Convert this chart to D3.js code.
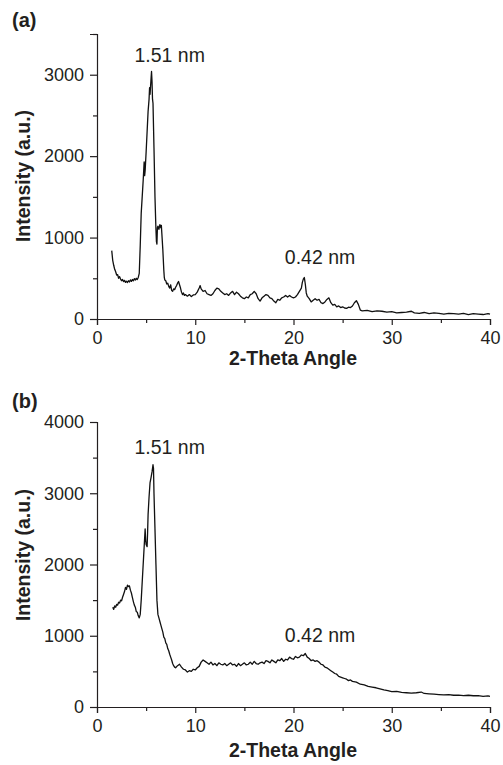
<!DOCTYPE html>
<html>
<head>
<meta charset="utf-8">
<script src="https://cdn.jsdelivr.net/npm/d3@7"></script>
<style>
  html, body { margin: 0; padding: 0; background: #fff; }
  svg { display: block; }
  text { font-family: "Liberation Sans", Arial, sans-serif; fill: #231f20; }
</style>
</head>
<body>
<svg id="chart" width="503" height="765"></svg>
<script>
// ---------- DATA ----------
const thetaA = [1.5,1.6,1.7,1.8,1.9,2.0,2.1,2.2,2.3,2.4,2.5,2.6,2.7,2.8,2.9,3.0,3.1,3.2,3.3,3.4,3.5,3.6,3.7,3.8,3.9,4.0,4.1,4.2,4.3,4.4,4.5,4.6,4.7,4.8,4.85,4.9,5.0,5.1,5.2,5.3,5.35,5.4,5.5,5.55,5.6,5.65,5.7,5.8,5.9,6.0,6.05,6.1,6.15,6.2,6.3,6.4,6.5,6.55,6.6,6.7,6.8,6.85,6.9,7.0,7.1,7.2,7.3,7.4,7.5,7.6,7.7,7.8,7.9,8.0,8.1,8.2,8.3,8.4,8.5,8.6,8.7,8.8,8.9,9.0,9.2,9.4,9.6,9.8,10.0,10.2,10.4,10.5,10.6,10.8,11.0,11.2,11.4,11.6,11.8,12.0,12.2,12.4,12.6,12.8,13.0,13.2,13.4,13.6,13.8,14.0,14.2,14.4,14.6,14.8,15.0,15.2,15.4,15.6,15.8,16.0,16.2,16.4,16.6,16.8,17.0,17.2,17.4,17.6,17.8,18.0,18.2,18.4,18.6,18.8,19.0,19.2,19.4,19.6,19.8,20.0,20.2,20.4,20.6,20.8,20.9,21.0,21.1,21.2,21.3,21.4,21.6,21.8,22.0,22.2,22.4,22.6,22.8,23.0,23.2,23.4,23.6,23.8,24.0,24.2,24.4,24.6,24.8,25.0,25.2,25.4,25.6,25.8,26.0,26.2,26.4,26.6,26.8,27.0,27.5,28.0,28.5,29.0,29.5,30.0,30.5,31.0,31.5,32.0,32.3,32.8,33.3,33.8,34.3,34.8,35.3,35.8,36.3,36.8,37.3,37.8,38.3,38.8,39.3,39.8,40.0];
const intensityA = [840,720,660,610,580,540,545,500,520,490,470,485,460,475,450,465,448,470,455,480,462,485,470,495,478,500,485,510,560,900,1300,1500,1700,1930,1760,1820,2050,2300,2550,2700,2840,2760,2950,3040,2920,2700,2650,2100,1500,1100,950,920,1120,1140,1100,1160,1120,1150,1050,850,600,510,480,470,430,440,400,380,420,350,340,370,360,390,410,440,460,420,380,330,300,320,290,300,280,300,275,295,300,330,380,410,370,340,350,310,300,290,310,350,380,370,340,320,300,310,290,320,340,300,330,310,280,260,250,270,260,300,310,340,310,250,220,260,280,300,290,260,250,220,200,240,230,260,270,290,270,290,270,260,270,300,340,380,450,490,510,430,320,280,250,210,230,250,230,240,200,190,210,240,260,200,170,180,150,160,140,150,135,130,145,140,160,200,225,180,110,100,105,90,100,95,85,90,75,80,85,95,75,70,80,65,75,70,60,70,65,60,70,55,65,60,55,65,60];

const thetaB = [1.6,1.7,1.8,1.9,2.0,2.1,2.2,2.3,2.4,2.5,2.6,2.7,2.8,2.9,3.0,3.1,3.2,3.3,3.4,3.5,3.6,3.7,3.8,3.9,4.0,4.1,4.2,4.3,4.4,4.5,4.6,4.7,4.8,4.9,4.95,5.0,5.1,5.15,5.2,5.3,5.4,5.5,5.6,5.7,5.75,5.8,5.9,6.0,6.1,6.2,6.3,6.4,6.5,6.6,6.7,6.8,6.9,7.0,7.1,7.2,7.3,7.4,7.5,7.6,7.7,7.8,7.9,8.0,8.2,8.4,8.6,8.8,9.0,9.2,9.4,9.6,9.8,10.0,10.2,10.4,10.6,10.8,11.0,11.2,11.4,11.6,11.8,12.0,12.2,12.4,12.6,12.8,13.0,13.2,13.4,13.6,13.8,14.0,14.2,14.4,14.6,14.8,15.0,15.2,15.4,15.6,15.8,16.0,16.2,16.4,16.6,16.8,17.0,17.2,17.4,17.6,17.8,18.0,18.2,18.4,18.6,18.8,19.0,19.2,19.4,19.6,19.8,20.0,20.2,20.4,20.6,20.8,21.0,21.2,21.4,21.6,21.8,22.0,22.2,22.4,22.6,22.8,23.0,23.2,23.4,23.6,23.8,24.0,24.2,24.4,24.6,24.8,25.0,25.2,25.4,25.6,25.8,26.0,26.4,26.8,27.2,27.6,28.0,28.4,28.8,29.2,29.6,30.0,30.5,31.0,31.5,32.0,32.5,33.0,33.3,33.8,34.3,34.8,35.3,35.8,36.3,36.8,37.3,37.8,38.3,38.8,39.3,39.8,40.0];
const intensityB = [1400,1370,1420,1400,1440,1430,1470,1460,1500,1490,1540,1580,1620,1680,1650,1710,1690,1700,1640,1600,1540,1480,1430,1400,1340,1330,1280,1250,1300,1500,1750,2000,2250,2500,2350,2280,2250,2450,2700,2950,3150,3220,3300,3400,3350,3000,2500,2000,1500,1300,1250,1200,1150,1100,1050,980,960,900,880,820,790,740,700,660,610,580,560,550,580,600,560,530,520,490,510,500,530,520,550,570,630,660,640,620,600,630,590,610,580,620,600,590,610,580,600,620,590,600,570,610,580,600,620,590,600,630,600,640,610,600,620,630,610,650,640,620,660,640,620,660,650,680,640,670,660,700,680,670,710,690,700,730,720,750,700,680,650,660,640,650,630,600,590,560,550,530,510,490,470,460,430,420,410,400,390,370,380,360,350,320,310,290,280,270,255,240,230,215,220,205,200,195,200,210,190,185,180,175,170,175,165,168,160,165,158,160,150,155,150];

const xTicks = [0, 10, 20, 30, 40];
const xMinorTicks = [5, 15, 25, 35];
const yTicksA = [0, 1000, 2000, 3000];
const yMinorTicksA = [500, 1500, 2500, 3500];
const yTicksB = [0, 1000, 2000, 3000, 4000];
const yMinorTicksB = [500, 1500, 2500, 3500];
const panelLabels = ["(a)", "(b)"];
const peakLabels = ["1.51 nm", "0.42 nm"];
// annotation anchor points in data units [2-theta, intensity]
const peakPosA = [[7.4, 3160], [22.7, 680]];
const peakPosB = [[7.4, 3550], [22.7, 910]];
const xTitle = "2-Theta Angle";
const yTitle = "Intensity (a.u.)";

// ---------- DRAW ----------
const svg = d3.select("#chart");

function panel(cfg) {
  const x = d3.scaleLinear().domain([0, 40]).range([97, 490]);
  const y = d3.scaleLinear().domain([0, cfg.yMax]).range([cfg.bottom, cfg.top]);
  const g = svg.append("g");

  g.append("g").attr("transform", `translate(0,${cfg.bottom})`)
    .call(d3.axisBottom(x).tickValues(xMinorTicks).tickSize(4).tickFormat(""))
    .call(s => s.select(".domain").remove());
  const gx = g.append("g").attr("transform", `translate(0,${cfg.bottom})`)
    .call(d3.axisBottom(x).tickValues(xTicks).tickSizeOuter(0).tickSize(6).tickPadding(6).tickFormat(d3.format("d")));
  gx.selectAll("text").attr("font-size", 18).attr("dy", "0.71em");

  g.append("g").attr("transform", `translate(97,0)`)
    .call(d3.axisLeft(y).tickValues(cfg.yMinor).tickSize(4).tickFormat(""))
    .call(s => s.select(".domain").remove());
  const gy = g.append("g").attr("transform", `translate(97,0)`)
    .call(d3.axisLeft(y).tickValues(cfg.yTicks).tickSizeOuter(0).tickSize(7).tickPadding(6).tickFormat(d3.format("d")));
  gy.selectAll("text").attr("font-size", 18);

  g.selectAll(".domain, .tick line").attr("stroke", "#231f20").attr("stroke-width", 1.2);

  const pts = cfg.tx.map((t, i) => [t, cfg.iy[i]]);
  g.append("path").datum(pts)
    .attr("fill", "none").attr("stroke", "#111").attr("stroke-width", 1.3)
    .attr("stroke-linejoin", "round")
    .attr("d", d3.line().x(d => x(d[0])).y(d => y(d[1])));

  cfg.peaks.forEach((p, i) => {
    g.append("text").attr("x", x(p[0])).attr("y", y(p[1]))
      .attr("text-anchor", "middle").attr("font-size", 19.5).text(peakLabels[i]);
  });

  g.append("text").attr("x", 293).attr("y", cfg.xTitleY)
    .attr("text-anchor", "middle").attr("font-size", 19.5).attr("font-weight", "bold").text(xTitle);
  g.append("text").attr("transform", `translate(30,${cfg.yTitleY}) rotate(-90)`)
    .attr("text-anchor", "middle").attr("font-size", 19.5).attr("font-weight", "bold").text(yTitle);
  g.append("text").attr("x", 12).attr("y", cfg.labelY)
    .attr("font-size", 20).attr("font-weight", "bold").text(cfg.label);
}

panel({ tx: thetaA, iy: intensityA, yMax: 3500, bottom: 319, top: 34,
  yTicks: yTicksA, yMinor: yMinorTicksA, peaks: peakPosA,
  xTitleY: 365, yTitleY: 176, labelY: 27, label: panelLabels[0] });
panel({ tx: thetaB, iy: intensityB, yMax: 4000, bottom: 707, top: 422,
  yTicks: yTicksB, yMinor: yMinorTicksB, peaks: peakPosB,
  xTitleY: 757, yTitleY: 555, labelY: 408, label: panelLabels[1] });
</script>
</body>
</html>
